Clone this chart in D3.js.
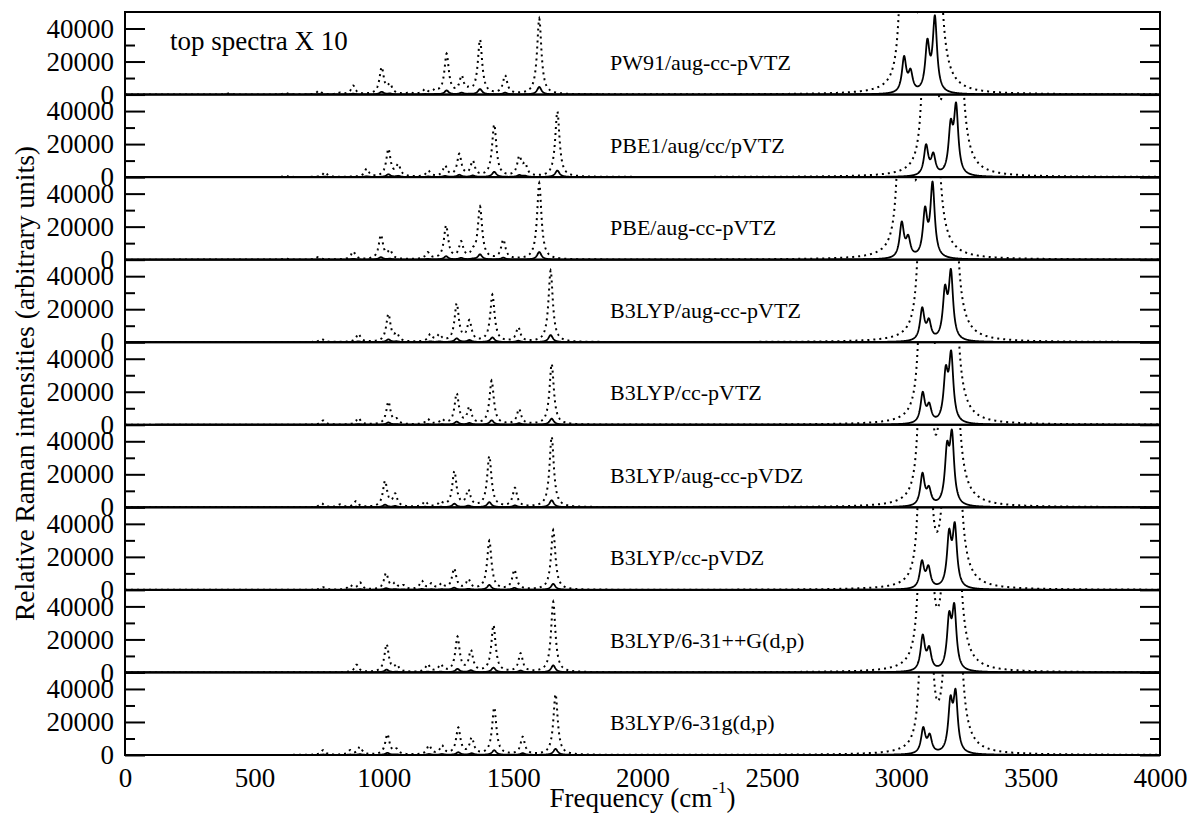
<!DOCTYPE html>
<html>
<head>
<meta charset="utf-8">
<script src="https://cdn.jsdelivr.net/npm/d3@7"></script>
<style>
  body { margin: 0; background: #fff; }
  svg text { font-family: "Liberation Serif", "Times New Roman", serif !important; fill: #000; }
</style>
</head>
<body>
<div id="chart"></div>
<script>
// method / basis labels, top panel first
const panelLabels = [
    'PW91/aug-cc-pVTZ', 'PBE1/aug/cc/pVTZ', 'PBE/aug-cc-pVTZ',
    'B3LYP/aug-cc-pVTZ', 'B3LYP/cc-pVTZ', 'B3LYP/aug-cc-pVDZ',
    'B3LYP/cc-pVDZ', 'B3LYP/6-31++G(d,p)', 'B3LYP/6-31g(d,p)'
];

// Raman peaks: [frequency cm-1, peak height]
const peaksPW91 = [[400, 60], [620, 100], [750, 240], [831, 120], [882, 545], [992, 1670], [1024, 700], [1100, 150], [1160, 350], [1200, 400], [1243, 2480], [1301, 1170], [1330, 500], [1372, 3330], [1469, 1170], [1601, 4600], [3011, 23400], [3036, 15700], [3101, 33900], [3130, 48000]];
const peaksPBE1 = [[620, 80], [773, 300], [934, 510], [1018, 1720], [1056, 810], [1172, 400], [1237, 710], [1292, 1420], [1344, 1010], [1427, 3190], [1524, 1310], [1546, 900], [1671, 3980], [3096, 20000], [3124, 15000], [3191, 35100], [3212, 45200]];
const peaksPBE = [[620, 80], [747, 160], [882, 500], [989, 1510], [1024, 620], [1170, 460], [1241, 2080], [1299, 1130], [1344, 760], [1372, 3230], [1462, 1230], [1601, 4640], [3002, 23200], [3027, 15100], [3092, 32300], [3121, 47400]];
const peaksB3augTZ = [[760, 200], [902, 510], [1018, 1720], [1050, 600], [1180, 510], [1215, 510], [1282, 2360], [1331, 1360], [1420, 2890], [1520, 910], [1645, 4340], [3081, 21200], [3107, 14500], [3169, 34800], [3192, 44400]];
const peaksB3TZ = [[766, 260], [902, 420], [1018, 1410], [1050, 400], [1170, 360], [1225, 360], [1282, 1910], [1331, 1110], [1417, 2680], [1523, 970], [1649, 3690], [3083, 20000], [3108, 13500], [3172, 36000], [3193, 45000]];
const peaksB3augDZ = [[760, 240], [831, 180], [893, 380], [1005, 1610], [1044, 850], [1160, 380], [1220, 380], [1273, 2200], [1327, 1090], [1408, 3110], [1507, 1190], [1649, 4280], [3082, 21000], [3107, 13000], [3177, 40000], [3196, 47000]];
const peaksB3DZ = [[766, 160], [870, 300], [908, 460], [1009, 1030], [1044, 460], [1076, 300], [1147, 560], [1185, 420], [1224, 420], [1272, 1310], [1327, 670], [1408, 2990], [1505, 1230], [1655, 3630], [3080, 18000], [3105, 15000], [3185, 37000], [3207, 41000]];
const peaksB3pp = [[895, 470], [1011, 1720], [1050, 510], [1170, 510], [1220, 510], [1285, 2180], [1337, 1370], [1424, 2870], [1529, 1170], [1655, 4280], [3083, 23000], [3108, 16000], [3185, 37000], [3205, 42000]];
const peaksB3631 = [[766, 300], [870, 300], [908, 500], [1014, 1270], [1050, 400], [1175, 600], [1225, 600], [1288, 1670], [1340, 1070], [1427, 2880], [1537, 1110], [1664, 3690], [3085, 17000], [3110, 13000], [3190, 36000], [3210, 40000]];

const panelPeaks = [peaksPW91, peaksPBE1, peaksPBE, peaksB3augTZ, peaksB3TZ, peaksB3augDZ, peaksB3DZ, peaksB3pp, peaksB3631];

const xTicks = [0, 500, 1000, 1500, 2000, 2500, 3000, 3500, 4000];
const yMajor = [0, 20000, 40000];
const yMinor = [10000, 30000];
const scaleUp = 10;      // "top spectra X 10"
const halfWidth = 10;    // lorentzian half width, cm-1

const serif = '"Liberation Serif", "Times New Roman", serif';
const w = 1188, h = 830;
const padL = 125, padR = 1160, padT = 12, padB = 755;
const panelH = (padB - padT) / panelLabels.length;

const svg = d3.select('#chart').append('svg')
    .attr('width', w)
    .attr('height', h)
    .attr('font-family', serif);

const x = d3.scaleLinear().domain([0, 4000]).range([padL, padR]);

const lor = d => halfWidth * halfWidth / (d * d + halfWidth * halfWidth);

// find amplitudes so the summed curve passes through the read peak heights
function amplitudes(peaks) {
    let A = peaks.map(p => p[1]);
    for (let it = 0; it < 60; it++) {
        A = peaks.map((p, i) => {
            const s = d3.sum(peaks, (q, j) => A[j] * lor(p[0] - q[0]));
            return Math.max(0, A[i] + 0.6 * (p[1] - s));
        });
    }
    return A;
}

const grid = d3.range(0, 4000.5, 1);

panelPeaks.forEach((peaks, i) => {
    const y0 = padT + i * panelH;
    const y1 = y0 + panelH;
    const y = d3.scaleLinear().domain([0, 50000]).range([y1, y0]);
    const A = amplitudes(peaks);
    const spec = grid.map(f => [f, d3.sum(peaks, (p, j) => A[j] * lor(f - p[0]))]);

    const g = svg.append('g');

    g.append('clipPath').attr('id', 'clip' + i)
        .append('rect')
        .attr('x', padL).attr('y', y0)
        .attr('width', padR - padL).attr('height', panelH);

    const line = d3.line().x(d => x(d[0])).y(d => y(d[1]));
    const line10 = d3.line().x(d => x(d[0])).y(d => y(d[1] * scaleUp));

    g.append('path')
        .datum(spec)
        .attr('clip-path', `url(#clip${i})`)
        .attr('d', line10)
        .attr('fill', 'none')
        .attr('stroke', '#000')
        .attr('stroke-width', 2)
        .attr('stroke-dasharray', '2,4');

    g.append('path')
        .datum(spec)
        .attr('clip-path', `url(#clip${i})`)
        .attr('d', line)
        .attr('fill', 'none')
        .attr('stroke', '#000')
        .attr('stroke-width', 1.8)
        .attr('stroke-linejoin', 'round');

    // ticks, pointing inward on both sides
    const axL = g.append('g')
        .attr('transform', `translate(${padL},0)`)
        .call(d3.axisLeft(y).tickValues(yMajor).tickFormat(d3.format('d'))
            .tickSizeInner(-20).tickSizeOuter(0).tickPadding(11));
    g.append('g')
        .attr('transform', `translate(${padL},0)`)
        .call(d3.axisLeft(y).tickValues(yMinor).tickSizeInner(-10).tickSizeOuter(0).tickFormat(''));
    g.append('g')
        .attr('transform', `translate(${padR},0)`)
        .call(d3.axisRight(y).tickValues(yMajor).tickSizeInner(-20).tickSizeOuter(0).tickFormat(''));
    g.append('g')
        .attr('transform', `translate(${padR},0)`)
        .call(d3.axisRight(y).tickValues(yMinor).tickSizeInner(-10).tickSizeOuter(0).tickFormat(''));

    g.selectAll('.domain').remove();
    g.selectAll('.tick line').attr('stroke', '#000').attr('stroke-width', 2);
    axL.attr('font-family', serif).attr('font-size', 27);
    axL.selectAll('text').attr('fill', '#000');

    g.append('rect')
        .attr('x', padL).attr('y', y0)
        .attr('width', padR - padL).attr('height', panelH)
        .attr('fill', 'none')
        .attr('stroke', '#000')
        .attr('stroke-width', 2);

    g.append('text')
        .attr('x', 610)
        .attr('y', y0 + 58)
        .attr('font-size', 22)
        .text(panelLabels[i]);
});

// x axis labels only, no tick marks
const axB = svg.append('g')
    .attr('transform', `translate(0,${padB})`)
    .call(d3.axisBottom(x).tickValues(xTicks).tickSize(0).tickPadding(13).tickFormat(d3.format('d')));
axB.select('.domain').remove();
axB.attr('font-family', serif).attr('font-size', 27);
axB.selectAll('text').attr('fill', '#000');

svg.append('text')
    .attr('x', 170)
    .attr('y', 50)
    .attr('font-size', 27)
    .text('top spectra X 10');

svg.append('text')
    .attr('transform', `translate(34,${(padT + padB) / 2}) rotate(-90)`)
    .attr('text-anchor', 'middle')
    .attr('font-size', 27.5)
    .text('Relative Raman intensities (arbitrary units)');

const xt = svg.append('text')
    .attr('x', (padL + padR) / 2)
    .attr('y', 807)
    .attr('text-anchor', 'middle')
    .attr('font-size', 27);
xt.append('tspan').text('Frequency (cm');
xt.append('tspan').attr('dy', -14).attr('font-size', 17).text('-1');
xt.append('tspan').attr('dy', 14).text(')');
</script>
</body>
</html>
